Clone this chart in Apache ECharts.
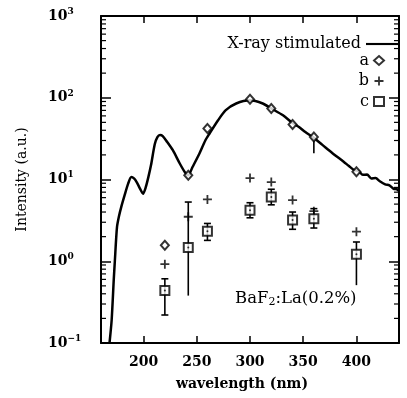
<!DOCTYPE html>
<html>
<head>
<meta charset="utf-8">
<script src="https://cdn.jsdelivr.net/npm/echarts@6/dist/echarts.min.js"></script>
<style>html,body{margin:0;padding:0;background:#fff;}#c{width:407px;height:398px;}</style>
</head>
<body>
<div id="c"></div>
<script>
// X-ray stimulated emission curve (wavelength nm, intensity a.u.)
const xrayWl  = [168, 170, 172, 173, 175, 177, 179, 182, 185.5, 188.5, 191, 193.5, 196.5, 199.5, 202, 204.5, 207, 210.5, 213, 215.5, 218, 222, 227.5, 234, 239, 242, 246, 252.5, 258, 262, 270, 277, 287, 300, 312, 320, 331, 340, 346, 352, 359, 368, 377.5, 388, 393, 398, 402, 406, 410, 414, 418, 422, 427, 431, 435, 438, 440];
const xrayVal = [0.1, 0.19, 0.6, 1.0, 2.6, 3.6, 4.6, 6.3, 8.9, 10.7, 10.3, 9.3, 7.8, 6.7, 8.0, 10.7, 15, 27, 33, 35, 34, 29, 22.8, 15.7, 12.2, 11.3, 14.2, 20.8, 30, 36.5, 53, 70, 85, 93, 85, 74, 61, 49, 44, 38, 33, 26.5, 21, 16.5, 14.6, 13, 12.7, 11.4, 11.5, 10.3, 10.4, 9.5, 8.7, 8.5, 7.7, 7.6, 7.3];

// series a (diamonds)
const aWl  = [220, 242, 260, 300, 320, 340, 360, 400];
const aVal = [1.57, 11.3, 42, 96, 74, 47, 33, 12.4];
const aErrWl = [360], aErrLow = [21], aErrHigh = [33], aErrLowCap = [0], aErrHighCap = [0];

// series b (plus)
const bWl  = [220, 242, 260, 300, 320, 340, 360, 400];
const bVal = [0.92, 3.5, 5.7, 10.4, 9.3, 5.6, 4.1, 2.3];

// series c (squares with error bars)
const cWl   = [220, 242, 260, 300, 320, 340, 360, 400];
const cVal  = [0.44, 1.47, 2.33, 4.2, 6.1, 3.2, 3.3, 1.22];
const cLow  = [0.22, 0.38, 1.8, 3.4, 4.9, 2.46, 2.55, 0.51];
const cHigh = [0.61, 5.3, 2.9, 5.2, 7.6, 4.0, 4.4, 1.72];
const cLowCap = [1, 0, 1, 1, 1, 1, 1, 0];

// axis ranges and ticks
const xMin = 160, xMax = 440;
const yMin = 0.1, yMax = 1000;
const yMinorTicks = [0.2,0.3,0.4,0.5,0.6,0.7,0.8,0.9, 2,3,4,5,6,7,8,9, 20,30,40,50,60,70,80,90, 200,300,400,500,600,700,800,900];

const FONT = 'DejaVu Serif';
const zip = (a, b) => a.map((v, i) => [v, b[i]]);

const chart = echarts.init(document.getElementById('c'), null, {renderer: 'canvas'});

function errRender(params, api) {
  const x = api.value(0), lo = api.value(1), hi = api.value(2), capLo = api.value(3), capHi = api.value(4);
  const pHi = api.coord([x, hi]);
  const pLo = api.coord([x, lo]);
  const w = 3.5;
  const st = {stroke: '#000', lineWidth: 1.6};
  const children = [{type: 'line', shape: {x1: pHi[0], y1: pHi[1], x2: pLo[0], y2: pLo[1]}, style: st}];
  if (capHi) children.push({type: 'line', shape: {x1: pHi[0] - w, y1: pHi[1], x2: pHi[0] + w, y2: pHi[1]}, style: st});
  if (capLo) children.push({type: 'line', shape: {x1: pLo[0] - w, y1: pLo[1], x2: pLo[0] + w, y2: pLo[1]}, style: st});
  return {type: 'group', children};
}

function minorRender(params, api) {
  const cs = params.coordSys;
  const y = api.coord([xMin, api.value(1)])[1];
  const st = {stroke: '#000', lineWidth: 1.2};
  return {type: 'group', children: [
    {type: 'line', shape: {x1: cs.x, y1: y, x2: cs.x + 5, y2: y}, style: st},
    {type: 'line', shape: {x1: cs.x + cs.width - 5, y1: y, x2: cs.x + cs.width, y2: y}, style: st}
  ]};
}

const plusPath = 'path://M4 0H6V4H10V6H6V10H4V6H0V4H4Z';

const option = {
  backgroundColor: '#fff',
  animation: false,
  grid: {left: 101, right: 8, top: 16, bottom: 55},
  textStyle: {fontFamily: FONT},
  legend: [
    {
      data: [{name: 'X-ray stimulated', icon: 'path://M0 0H30V2H0Z'}],
      right: 4, top: 31, align: 'right', orient: 'vertical',
      itemWidth: 32, itemHeight: 2.2,
      textStyle: {fontFamily: FONT, fontSize: 16, color: '#000'}
    },
    {
      data: [
        {name: 'a', icon: 'diamond'},
        {name: 'b', icon: plusPath},
        {name: 'c', icon: 'rect'}
      ],
      right: 17, top: 46, align: 'right', orient: 'vertical',
      itemWidth: 10, itemHeight: 9, itemGap: 1.5,
      textStyle: {fontFamily: FONT, fontSize: 16, color: '#000', lineHeight: 19}
    }
  ],
  xAxis: [
    {
      type: 'value', min: xMin, max: xMax, minInterval: 50, maxInterval: 50,
      name: 'wavelength (nm)', nameLocation: 'middle', nameGap: 34,
      nameTextStyle: {fontFamily: FONT, fontSize: 14, color: '#000', fontWeight: 'bold', padding: [0, 16, 0, 0]},
      axisLine: {lineStyle: {color: '#000', width: 2}},
      axisTick: {inside: true, length: 7, lineStyle: {color: '#000', width: 1.5}},
      axisLabel: {
        color: '#000', fontFamily: FONT, fontSize: 14, fontWeight: 'bold', margin: 12,
        formatter: v => (v % 50 === 0 ? String(v) : '')
      },
      splitLine: {show: false}
    },
    {
      type: 'value', position: 'top', min: xMin, max: xMax, minInterval: 50, maxInterval: 50,
      axisLine: {lineStyle: {color: '#000', width: 2}},
      axisTick: {inside: true, length: 7, lineStyle: {color: '#000', width: 1.5}},
      axisLabel: {show: false},
      splitLine: {show: false}
    }
  ],
  yAxis: [
    {
      type: 'log', logBase: 10, min: yMin, max: yMax,
      name: 'Intensity (a.u.)', nameLocation: 'middle', nameGap: 72,
      nameTextStyle: {fontFamily: FONT, fontSize: 14, color: '#000'},
      axisLine: {lineStyle: {color: '#000', width: 2}},
      axisTick: {inside: true, length: 10, lineStyle: {color: '#000', width: 1.5}},
      axisLabel: {
        color: '#000', fontFamily: FONT, fontSize: 14, fontWeight: 'bold', align: 'left', margin: 53,
        formatter: v => '10{sup|' + String(Math.round(Math.log10(v))).replace('-', '\u2212') + '}',
        rich: {sup: {fontFamily: FONT, fontSize: 9, fontWeight: 'bold', color: '#000', padding: [0, 0, 9, 0]}}
      },
      splitLine: {show: false}
    },
    {
      type: 'log', logBase: 10, min: yMin, max: yMax, position: 'right',
      axisLine: {lineStyle: {color: '#000', width: 2}},
      axisTick: {inside: true, length: 10, lineStyle: {color: '#000', width: 1.5}},
      axisLabel: {show: false},
      splitLine: {show: false}
    }
  ],
  graphic: [{
    type: 'text', left: 235, top: 290,
    style: {
      text: 'BaF{sub|2}:La(0.2%)',
      font: '16.5px "DejaVu Serif"', fill: '#000',
      rich: {sub: {fontFamily: FONT, fontSize: 11, fill: '#000', padding: [8, 0, 0, 0]}}
    }
  }],
  series: [
    {
      type: 'custom', name: 'minor', xAxisIndex: 0, yAxisIndex: 0, silent: true,
      data: yMinorTicks.map(v => [xMin, v]), renderItem: minorRender, z: 1
    },
    {
      type: 'line', name: 'X-ray stimulated', xAxisIndex: 0, yAxisIndex: 0,
      data: zip(xrayWl, xrayVal), smooth: 0.25, showSymbol: false, symbol: 'none',
      lineStyle: {color: '#000', width: 2.5}, itemStyle: {color: '#000'}, clip: true, z: 2
    },
    {
      type: 'custom', name: 'aerr', xAxisIndex: 0, yAxisIndex: 0, silent: true,
      data: aErrWl.map((w, i) => [w, aErrLow[i], aErrHigh[i], aErrLowCap[i], aErrHighCap[i]]),
      renderItem: errRender, z: 3
    },
    {
      type: 'custom', name: 'cerr', xAxisIndex: 0, yAxisIndex: 0, silent: true,
      data: cWl.map((w, i) => [w, cLow[i], cHigh[i], cLowCap[i], 1]),
      renderItem: errRender, z: 3
    },
    {
      type: 'scatter', name: 'a', xAxisIndex: 0, yAxisIndex: 0,
      data: zip(aWl, aVal), symbol: 'diamond', symbolSize: [8, 9],
      itemStyle: {color: '#fff', borderColor: '#000', borderWidth: 2}, z: 4
    },
    {
      type: 'scatter', name: 'b', xAxisIndex: 0, yAxisIndex: 0,
      data: zip(bWl, bVal), symbol: plusPath, symbolSize: 9,
      itemStyle: {color: '#000'}, z: 4
    },
    {
      type: 'scatter', name: 'c', xAxisIndex: 0, yAxisIndex: 0,
      data: zip(cWl, cVal), symbol: 'rect', symbolSize: 9,
      itemStyle: {color: '#fff', borderColor: '#000', borderWidth: 2}, z: 4
    },
    {
      type: 'scatter', name: 'cdot', xAxisIndex: 0, yAxisIndex: 0, silent: true,
      data: zip(cWl, cVal), symbol: 'circle', symbolSize: 2,
      itemStyle: {color: '#000'}, z: 5
    }
  ]
};
chart.setOption(option);
</script>
</body>
</html>
